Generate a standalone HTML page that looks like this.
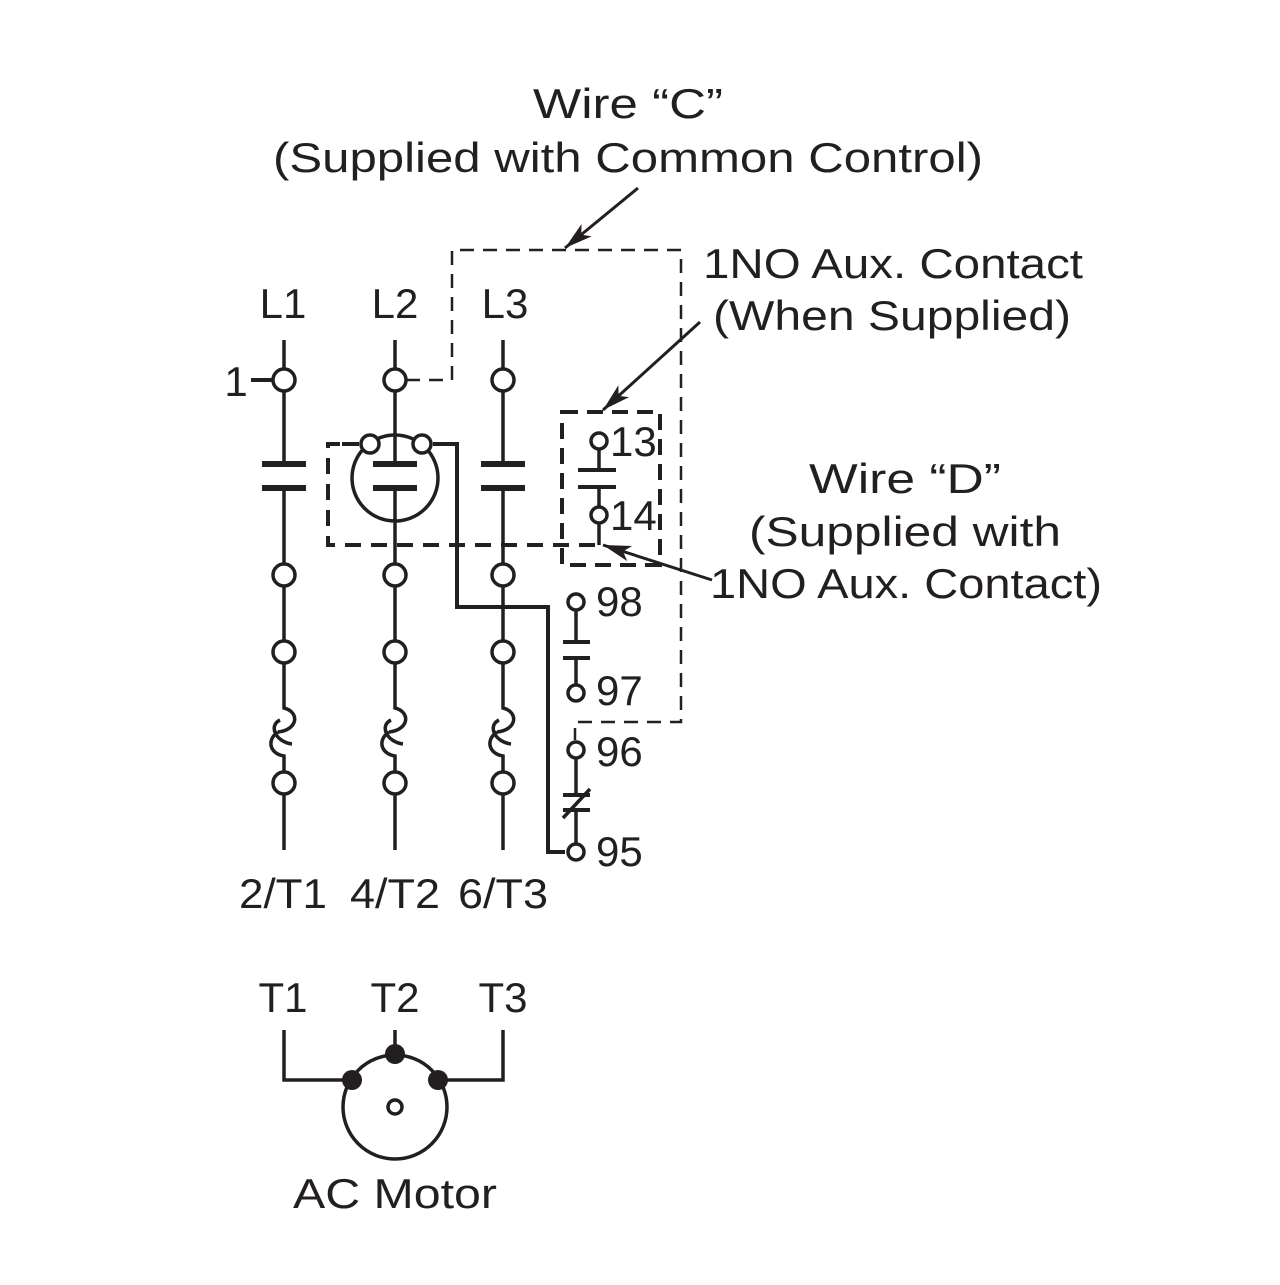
<!DOCTYPE html>
<html><head><meta charset="utf-8"><style>html,body{margin:0;padding:0;background:#fff}</style></head>
<body>
<svg width="1280" height="1280" viewBox="0 0 1280 1280" xmlns="http://www.w3.org/2000/svg" font-family="Liberation Sans, sans-serif" fill="#231f20">
<defs><marker id="ah" markerWidth="30" markerHeight="20" refX="28" refY="10" orient="auto" markerUnits="userSpaceOnUse"><path d="M0,2 L28,10 L0,18 L7,10 Z"/></marker></defs>
<g font-size="42">
<text x="628" y="118" text-anchor="middle" textLength="190" lengthAdjust="spacingAndGlyphs">Wire “C”</text>
<text x="628" y="172" text-anchor="middle" textLength="710" lengthAdjust="spacingAndGlyphs">(Supplied with Common Control)</text>
<text x="703" y="278" textLength="380" lengthAdjust="spacingAndGlyphs">1NO Aux. Contact</text>
<text x="713" y="330" textLength="358" lengthAdjust="spacingAndGlyphs">(When Supplied)</text>
<text x="905" y="493" text-anchor="middle" textLength="192" lengthAdjust="spacingAndGlyphs">Wire “D”</text>
<text x="905" y="546" text-anchor="middle" textLength="312" lengthAdjust="spacingAndGlyphs">(Supplied with</text>
<text x="710" y="598" textLength="392" lengthAdjust="spacingAndGlyphs">1NO Aux. Contact)</text>
<text x="283" y="318" text-anchor="middle">L1</text>
<text x="395" y="318" text-anchor="middle">L2</text>
<text x="505" y="318" text-anchor="middle">L3</text>
<text x="236" y="396" text-anchor="middle">1</text>
<text x="283" y="908" text-anchor="middle" textLength="88" lengthAdjust="spacingAndGlyphs">2/T1</text>
<text x="395" y="908" text-anchor="middle" textLength="90" lengthAdjust="spacingAndGlyphs">4/T2</text>
<text x="503" y="908" text-anchor="middle" textLength="90" lengthAdjust="spacingAndGlyphs">6/T3</text>
<text x="283" y="1012" text-anchor="middle">T1</text>
<text x="395" y="1012" text-anchor="middle">T2</text>
<text x="503" y="1012" text-anchor="middle">T3</text>
<text x="395" y="1208" text-anchor="middle" textLength="204" lengthAdjust="spacingAndGlyphs">AC Motor</text>
<text x="610" y="456">13</text>
<text x="610" y="530">14</text>
<text x="596" y="616">98</text>
<text x="596" y="705">97</text>
<text x="596" y="766">96</text>
<text x="596" y="866">95</text>
</g>
<g stroke="#231f20" fill="none" stroke-width="3.5">
<g id="col">
<line x1="284" y1="340" x2="284" y2="369"/>
<circle cx="284" cy="380" r="11" fill="#fff"/>
<line x1="284" y1="391" x2="284" y2="464"/>
<line x1="262" y1="464" x2="306" y2="464" stroke-width="6"/>
<line x1="262" y1="488" x2="306" y2="488" stroke-width="6"/>
<line x1="284" y1="488" x2="284" y2="564"/>
<circle cx="284" cy="575" r="11" fill="#fff"/>
<line x1="284" y1="586" x2="284" y2="641"/>
<circle cx="284" cy="652" r="11" fill="#fff"/>
<path d="M284,663 V708 C300,712 298,730 278,732 M292,744 C276,742 268,726 280,720 M278,732 C266,740 270,754 284,756 V772"/>
<circle cx="284" cy="783" r="11" fill="#fff"/>
<line x1="284" y1="794" x2="284" y2="850"/>
</g>
<use href="#col" x="111"/>
<use href="#col" x="219"/>
<line x1="251" y1="380" x2="273" y2="380" stroke-width="4"/>
<circle cx="395" cy="478" r="43"/>
<path d="M342,444 H359 M433,444 H457 V607 H548 V852 H565" stroke-width="4"/>
<circle cx="370" cy="444" r="9" fill="#fff"/>
<circle cx="422" cy="444" r="9" fill="#fff"/>
<path d="M340,444 H328 V545 H600" stroke-dasharray="16,10" stroke-width="4"/>
<path d="M406,380 H452 V250 H681 V722 H575 V740" stroke-dasharray="14,9" stroke-width="2.5"/>
<path d="M562,412 H660 V565 H562 Z" stroke-dasharray="16,9" stroke-width="4"/>
<circle cx="599" cy="441" r="8" fill="#fff"/>
<line x1="599" y1="449" x2="599" y2="470"/>
<line x1="578" y1="470" x2="616" y2="470" stroke-width="4"/>
<line x1="578" y1="487" x2="616" y2="487" stroke-width="4"/>
<line x1="599" y1="487" x2="599" y2="507"/>
<circle cx="599" cy="515" r="8" fill="#fff"/>
<line x1="599" y1="523" x2="599" y2="545"/>
<circle cx="576" cy="602" r="8" fill="#fff"/>
<line x1="576" y1="610" x2="576" y2="642"/>
<line x1="563" y1="642" x2="590" y2="642" stroke-width="4"/>
<line x1="563" y1="658" x2="590" y2="658" stroke-width="4"/>
<line x1="576" y1="658" x2="576" y2="685"/>
<circle cx="576" cy="693" r="8" fill="#fff"/>
<circle cx="576" cy="750" r="8" fill="#fff"/>
<line x1="576" y1="758" x2="576" y2="795"/>
<line x1="563" y1="795" x2="590" y2="795" stroke-width="4"/>
<line x1="563" y1="810" x2="590" y2="810" stroke-width="4"/>
<line x1="563" y1="818" x2="590" y2="789"/>
<line x1="576" y1="810" x2="576" y2="844"/>
<circle cx="576" cy="852" r="8" fill="#fff"/>
<line x1="638" y1="188" x2="565" y2="248" stroke-width="3" marker-end="url(#ah)"/>
<line x1="700" y1="322" x2="603" y2="410" stroke-width="3" marker-end="url(#ah)"/>
<line x1="712" y1="580" x2="603" y2="545" stroke-width="3" marker-end="url(#ah)"/>
<circle cx="395" cy="1107" r="52"/>
<circle cx="395" cy="1107" r="7"/>
<path d="M284,1030 V1080 H352 M503,1030 V1080 H438 M395,1030 V1052"/>
</g>
<circle cx="352" cy="1080" r="10"/>
<circle cx="395" cy="1054" r="10"/>
<circle cx="438" cy="1080" r="10"/>
</svg>
</body></html>
